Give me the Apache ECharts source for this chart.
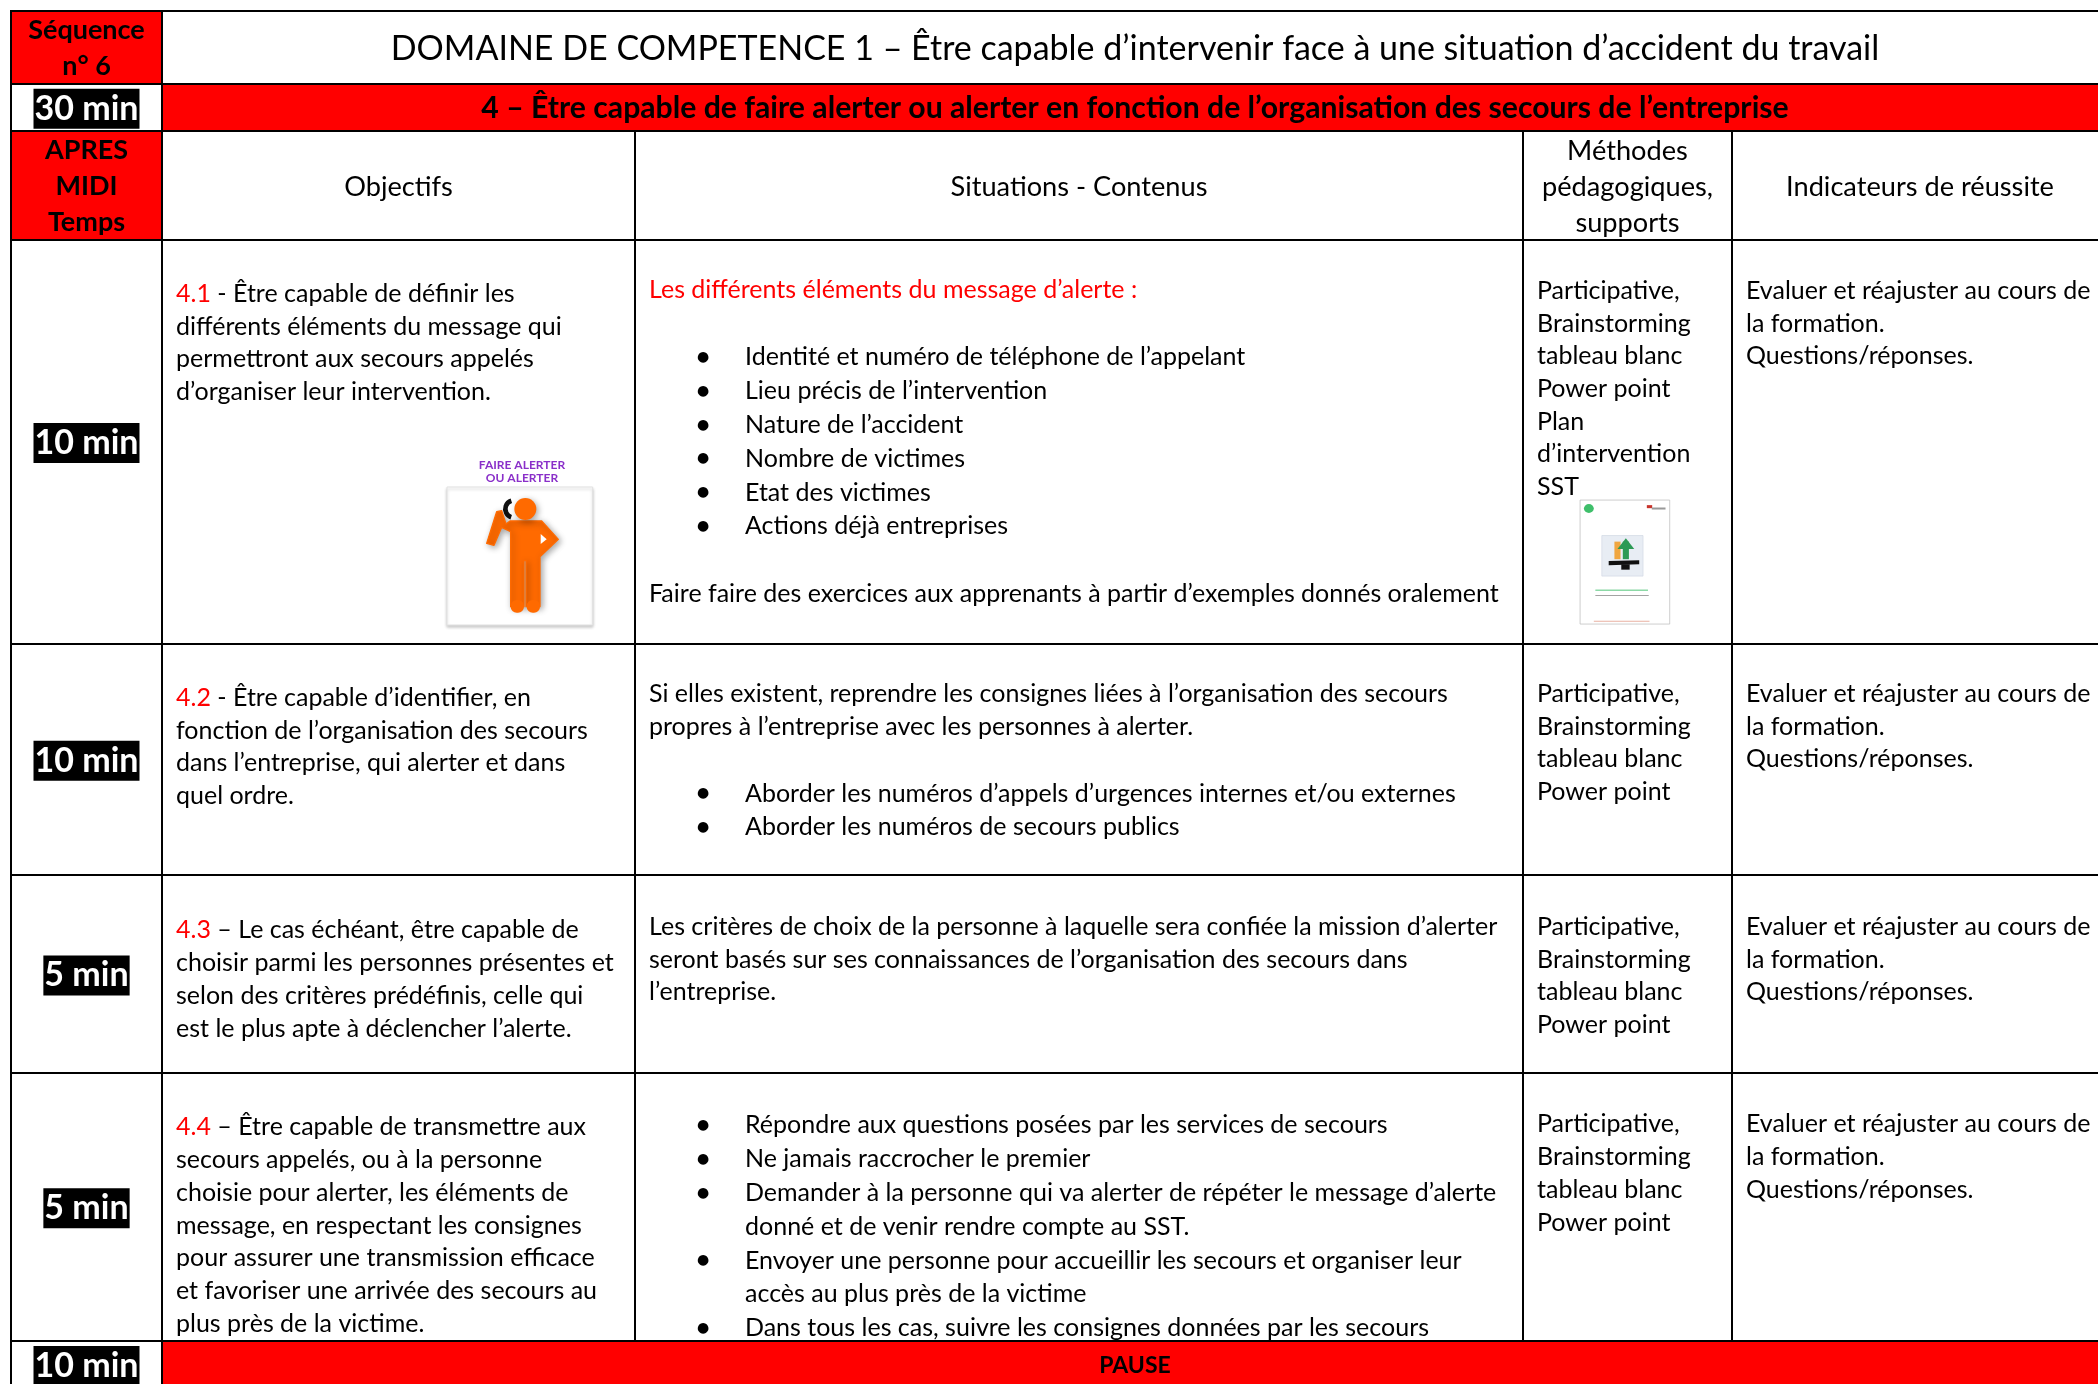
<!DOCTYPE html>
<html>
<head>
<meta charset="utf-8">
<title>Séquence 6</title>
<script src="https://cdn.jsdelivr.net/npm/echarts@6/dist/echarts.min.js"></script>
<style>
html,body{margin:0;background:#fff;overflow:hidden}
#main{width:2098px;height:1384px}
</style>
</head>
<body>
<div id="main"></div>
<script>
var sequence = ['Séquence', 'n° 6'];
var title = 'DOMAINE DE COMPETENCE 1 – Être capable d’intervenir face à une situation d’accident du travail';
var subtitle = '4 – Être capable de faire alerter ou alerter en fonction de l’organisation des secours de l’entreprise';
var timeHead = ['APRES', 'MIDI', 'Temps'];
var times = ['30 min', '10 min', '10 min', '5 min', '5 min', '10 min'];
var pause = 'PAUSE';
var heads = ['Objectifs', 'Situations - Contenus', 'Méthodes\npédagogiques,\nsupports', 'Indicateurs de réussite'];

var codes = ['4.1', '4.2', '4.3', '4.4'];
var objectifs = [
	[' - Être capable de définir les', 'différents éléments du message qui', 'permettront aux secours appelés', 'd’organiser leur intervention.'],
	[' - Être capable d’identifier, en', 'fonction de l’organisation des secours', 'dans l’entreprise, qui alerter et dans', 'quel ordre.'],
	[' – Le cas échéant, être capable de', 'choisir parmi les personnes présentes et', 'selon des critères prédéfinis, celle qui', 'est le plus apte à déclencher l’alerte.'],
	[' – Être capable de transmettre aux', 'secours appelés, ou à la personne', 'choisie pour alerter, les éléments de', 'message, en respectant les consignes', 'pour assurer une transmission efficace', 'et favoriser une arrivée des secours au', 'plus près de la victime.']
];
// r = red line, t = plain line, b = bullet, c = bullet continued, e = empty
var situations = [
	[['r', 'Les différents éléments du message d’alerte :'], ['e', ''],
	 ['b', 'Identité et numéro de téléphone de l’appelant'], ['b', 'Lieu précis de l’intervention'], ['b', 'Nature de l’accident'],
	 ['b', 'Nombre de victimes'], ['b', 'Etat des victimes'], ['b', 'Actions déjà entreprises'], ['e', ''],
	 ['t', 'Faire faire des exercices aux apprenants à partir d’exemples donnés oralement']],
	[['t', 'Si elles existent, reprendre les consignes liées à l’organisation des secours'], ['t', 'propres à l’entreprise avec les personnes à alerter.'], ['e', ''],
	 ['b', 'Aborder les numéros d’appels d’urgences internes et/ou externes'], ['b', 'Aborder les numéros de secours publics']],
	[['t', 'Les critères de choix de la personne à laquelle sera confiée la mission d’alerter'], ['t', 'seront basés sur ses connaissances de l’organisation des secours dans'], ['t', 'l’entreprise.']],
	[['b', 'Répondre aux questions posées par les services de secours'], ['b', 'Ne jamais raccrocher le premier'],
	 ['b', 'Demander à la personne qui va alerter de répéter le message d’alerte'], ['c', 'donné et de venir rendre compte au SST.'],
	 ['b', 'Envoyer une personne pour accueillir les secours et organiser leur'], ['c', 'accès au plus près de la victime'],
	 ['b', 'Dans tous les cas, suivre les consignes données par les secours']]
];
var methodes = [
	['Participative,', 'Brainstorming', 'tableau blanc', 'Power point', 'Plan', 'd’intervention', 'SST'],
	['Participative,', 'Brainstorming', 'tableau blanc', 'Power point'],
	['Participative,', 'Brainstorming', 'tableau blanc', 'Power point'],
	['Participative,', 'Brainstorming', 'tableau blanc', 'Power point']
];
var indicateurs = ['Evaluer et réajuster au cours de', 'la formation.', 'Questions/réponses.'];

// table layout
var colWidths = [151, 473, 888, 209, 376];
var rowHeights = [72.5, 47.5, 108.5, 404, 231.5, 198, 267.5, 48];
var padObj = [38, 38, 39, 38];
var padSit = [34.5, 34, 35.5, 35.5];
var padMet = [35, 34, 35.5, 35];

var font = 'Lato';
var bodySize = 25;
var rich = {
	t: {fontFamily: font, fontSize: bodySize, lineHeight: 32.7, fill: '#000'},
	r: {fontFamily: font, fontSize: bodySize, lineHeight: 32.7, fill: '#f00'},
	e: {fontFamily: font, fontSize: bodySize, lineHeight: 33.8, fill: '#000'},
	l: {fontFamily: font, fontSize: bodySize, lineHeight: 33.8, fill: '#000'},
	ind: {width: 48, lineHeight: 33.8, fontSize: 8},
	dot: {width: 48, lineHeight: 33.8, fontSize: 14, fontFamily: 'DejaVu Sans', fill: '#000'},
	cnt: {width: 96, lineHeight: 33.8, fontSize: 8},
	big: {fontFamily: font, fontSize: 34, fill: '#000'},
	hd: {fontFamily: font, fontSize: 27.2, lineHeight: 36, fill: '#000'},
	bh: {fontFamily: font, fontSize: 27, lineHeight: 36, fill: '#000', fontWeight: 'bold'},
	bt: {fontFamily: font, fontSize: 30.2, fill: '#000', fontWeight: 'bold'},
	ps: {fontFamily: font, fontSize: 23, fill: '#000', fontWeight: 'bold'},
	blk: {fontFamily: font, fontSize: 34, fontWeight: 'bold', fill: '#fff', backgroundColor: '#000', padding: [3, 1, 3, 1], lineHeight: 39}
};

function lines(style, arr) {
	return arr.map(function (s) { return '{' + style + '|' + s + '}'; }).join('\n');
}
function sitText(items) {
	return items.map(function (it) {
		if (it[0] === 'e') return '{e| }';
		if (it[0] === 'b') return '{ind| }{dot|●}{l|' + it[1] + '}';
		if (it[0] === 'c') return '{cnt| }{l|' + it[1] + '}';
		return '{' + it[0] + '|' + it[1] + '}';
	}).join('\n');
}

// boxes go to the matrix, texts go to a custom series sitting on it
var body = [];
var cellTexts = [];
function fill(x, y, color, merge) {
	var c = {coord: [x, y], itemStyle: {color: color}};
	if (merge) c.mergeCells = true;
	body.push(c);
}
function put(x, y, text, left, top) {
	cellTexts.push({x: x, y: y, text: text, left: left, top: top});
}

fill(0, 0, '#f00');
fill([1, 4], 0, '#fff', true);
fill([1, 4], 1, '#f00', true);
fill(0, 2, '#f00');
fill([1, 4], 7, '#f00', true);

put(0, 0, lines('bh', sequence));
put([1, 4], 0, '{big|' + title + '}');
put(0, 1, '{blk|' + times[0] + '}');
put([1, 4], 1, '{bt|' + subtitle + '}');
put(0, 2, lines('bh', timeHead));
heads.forEach(function (h, i) {
	put(i + 1, 2, lines('hd', h.split('\n')));
});
for (var i = 0; i < 4; i++) {
	put(0, i + 3, '{blk|' + times[i + 1] + '}');
	put(1, i + 3, '{r|' + codes[i] + '}{t|' + objectifs[i][0] + '}\n' + lines('t', objectifs[i].slice(1)), 14, padObj[i]);
	put(2, i + 3, sitText(situations[i]), 14, padSit[i]);
	put(3, i + 3, lines('t', methodes[i]), 14, padMet[i]);
	put(4, i + 3, lines('t', indicateurs), 14, padMet[i]);
}
put(0, 7, '{blk|' + times[5] + '}');
put([1, 4], 7, '{ps|' + pause + '}');

function renderCellText(params, api) {
	var c = cellTexts[api.value(0)];
	var rect = api.layout([c.x, c.y]).rect || api.layout([c.x, c.y]);
	var isLeft = c.left !== undefined;
	return {
		type: 'text',
		style: {
			text: c.text,
			rich: rich,
			x: isLeft ? rect.x + c.left : rect.x + rect.width / 2,
			y: isLeft ? rect.y + c.top : rect.y + rect.height / 2 + 1.5,
			align: isLeft ? 'left' : 'center',
			verticalAlign: isLeft ? 'top' : 'middle'
		}
	};
}

// the two pictures of the source table
var orange = '#ff6a00';
var shade = {shadowBlur: 6, shadowColor: 'rgba(0,0,0,0.35)', shadowOffsetX: 2, shadowOffsetY: 2};
var iconParts = [
	{type: 'rect', shape: {x: 141, y: 141, width: 437, height: 414}, style: {fill: '#fff', stroke: '#e2e2e2', lineWidth: 3, shadowBlur: 3, shadowColor: 'rgba(0,0,0,0.2)', shadowOffsetY: 2}},
	{type: 'arc', shape: {cx: 342, cy: 207, r: 26, startAngle: 1.9, endAngle: 4.4}, style: {stroke: '#111', fill: 'none', lineWidth: 14}},
	{type: 'polygon', shape: {points: [[330, 243], [425, 243], [475, 298], [420, 350], [420, 500], [378, 500], [378, 362], [372, 362], [372, 500], [332, 500], [332, 275], [305, 262], [282, 316], [260, 310], [290, 215], [305, 212], [318, 252]]}, style: Object.assign({fill: orange, stroke: orange, lineWidth: 4, lineJoin: 'round'}, shade)},
	{type: 'polygon', shape: {points: [[422, 282], [440, 298], [422, 312]]}, style: {fill: '#fff'}},
	{type: 'rect', shape: {x: 332, y: 480, width: 40, height: 38, r: 18}, style: {fill: orange}},
	{type: 'rect', shape: {x: 380, y: 480, width: 40, height: 38, r: 18}, style: {fill: orange}},
	{type: 'circle', shape: {cx: 376, cy: 207, r: 33}, style: Object.assign({fill: orange}, shade)}
];
var docParts = [
	{type: 'rect', shape: {x: 210, y: 1125, width: 235, height: 367}, style: {fill: '#fff', stroke: '#bbb', lineWidth: 2}},
	{type: 'circle', shape: {cx: 233, cy: 1150, r: 13}, style: {fill: '#3fbf6b'}},
	{type: 'rect', shape: {x: 385, y: 1140, width: 14, height: 9}, style: {fill: '#c8342c'}},
	{type: 'rect', shape: {x: 398, y: 1147, width: 36, height: 6}, style: {fill: '#999'}},
	{type: 'rect', shape: {x: 267, y: 1230, width: 108, height: 120}, style: {fill: '#e8edf4', stroke: '#d2dae4', lineWidth: 2}},
	{type: 'rect', shape: {x: 300, y: 1248, width: 16, height: 52}, style: {fill: '#f0a640'}},
	{type: 'rect', shape: {x: 322, y: 1248, width: 16, height: 52}, style: {fill: '#2c9a55'}},
	{type: 'polygon', shape: {points: [[330, 1238], [352, 1270], [308, 1270]]}, style: {fill: '#2c9a55'}},
	{type: 'polygon', shape: {points: [[285, 1305], [365, 1303], [365, 1315], [285, 1318]]}, style: {fill: '#111'}},
	{type: 'rect', shape: {x: 318, y: 1315, width: 22, height: 16}, style: {fill: '#111'}},
	{type: 'rect', shape: {x: 250, y: 1390, width: 138, height: 4}, style: {fill: '#3fbf6b', opacity: 0.6}},
	{type: 'rect', shape: {x: 250, y: 1406, width: 140, height: 3}, style: {fill: '#666', opacity: 0.6}},
	{type: 'rect', shape: {x: 246, y: 1482, width: 146, height: 3}, style: {fill: '#e0907a', opacity: 0.7}}
];

var myChart = echarts.init(document.getElementById('main'));
var option = {
	animation: false,
	backgroundColor: '#fff',
	matrix: {
		left: 11,
		top: 11,
		width: 2097,
		height: 1384,
		x: {show: false, data: colWidths.map(function (w, i) { return {value: 'c' + i, size: w}; })},
		y: {show: false, data: rowHeights.map(function (h, i) { return {value: 'r' + i, size: h}; })},
		body: {
			itemStyle: {color: '#fff', borderColor: '#000', borderWidth: 2},
			data: body
		},
		backgroundStyle: {color: '#fff', borderColor: '#000', borderWidth: 2}
	},
	series: [{
		type: 'custom',
		coordinateSystem: 'matrix',
		silent: true,
		data: cellTexts.map(function (c, i) { return [i]; }),
		encode: {x: -1, y: -1},
		renderItem: renderCellText
	}],
	graphic: [
		{type: 'group', x: 400, y: 440, scaleX: 1 / 3, scaleY: 1 / 3, children: iconParts, z: 10},
		{type: 'text', x: 522, y: 465, z: 10, style: {text: 'FAIRE ALERTER', fontFamily: font, fontSize: 12, fontWeight: 'bold', fill: '#8a2fc9', align: 'center', verticalAlign: 'middle'}},
		{type: 'text', x: 522, y: 478, z: 10, style: {text: 'OU ALERTER', fontFamily: font, fontSize: 12, fontWeight: 'bold', fill: '#8a2fc9', align: 'center', verticalAlign: 'middle'}},
		{type: 'group', x: 1500, y: 120, scaleX: 1 / 2.622, scaleY: 1 / 2.96, children: docParts, z: 10}
	]
};
myChart.setOption(option);
</script>
</body>
</html>
